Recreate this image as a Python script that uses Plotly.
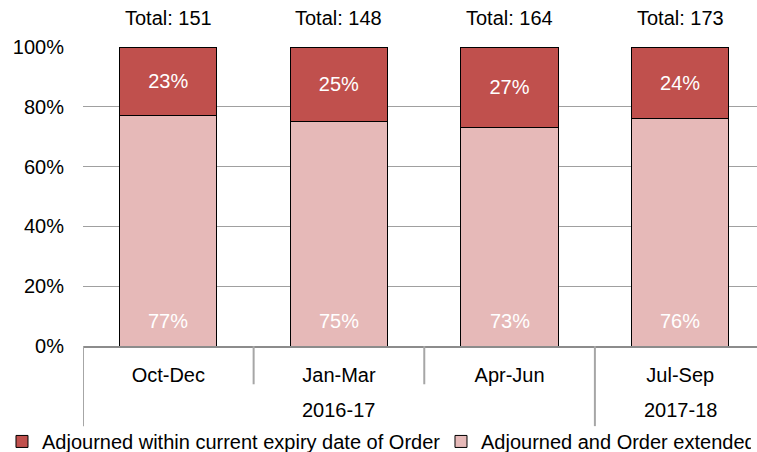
import plotly.graph_objects as go

quarters = ["Oct-Dec", "Jan-Mar", "Apr-Jun", "Jul-Sep"]
years = ["2016-17", "2017-18"]
year_quarter_counts = [3, 1]
totals = [151, 148, 164, 173]
within_pct = [23, 25, 27, 24]
extended_pct = [77, 75, 73, 76]
y_ticks = [0, 20, 40, 60, 80, 100]

FONT = "Liberation Sans, Arial, Helvetica, sans-serif"
RED = "#C0504D"
PINK = "#E6B9B8"

xs = list(range(len(quarters)))

fig = go.Figure()
fig.add_trace(go.Bar(
    x=xs, y=extended_pct, name="Adjourned and Order extended",
    marker=dict(color=PINK, line=dict(color="#000000", width=1)),
    width=0.57, legendwidth=265,
))
fig.add_trace(go.Bar(
    x=xs, y=within_pct, name="Adjourned within current expiry date of Order",
    marker=dict(color=RED, line=dict(color="#000000", width=1)),
    text=[f"{v}%" for v in within_pct], textposition="inside",
    insidetextanchor="middle", textangle=0,
    textfont=dict(color="white", size=20, family=FONT),
    width=0.57, legendwidth=394,
))

annotations = []
for i, t in enumerate(totals):
    annotations.append(dict(
        x=i, y=100, xref="x", yref="y", text=f"Total: {t}",
        showarrow=False, yanchor="bottom", yshift=16,
        font=dict(size=20, color="black", family=FONT)))
for i, v in enumerate(extended_pct):
    annotations.append(dict(
        x=i, y=0, xref="x", yref="y", text=f"{v}%",
        showarrow=False, yanchor="bottom", yshift=12,
        font=dict(size=20, color="white", family=FONT)))

shapes = []
start = 0
boundaries_full = [-0.5]
for yr, n in zip(years, year_quarter_counts):
    center = start + (n - 1) / 2
    annotations.append(dict(
        x=center, y=-0.214, xref="x", yref="paper", text=yr,
        showarrow=False, yanchor="middle",
        font=dict(size=20, color="black", family=FONT)))
    start += n
    boundaries_full.append(start - 0.5)

for b in boundaries_full:
    shapes.append(dict(type="line", xref="x", yref="paper", x0=b, x1=b,
                       y0=0, y1=-0.268, line=dict(color="#A6A6A6", width=2)))
for i in range(1, len(quarters)):
    b = i - 0.5
    if b not in boundaries_full:
        shapes.append(dict(type="line", xref="x", yref="paper", x0=b, x1=b,
                           y0=0, y1=-0.128, line=dict(color="#A6A6A6", width=2)))

fig.update_layout(
    barmode="stack",
    width=757, height=452,
    margin=dict(l=83, r=0, t=47, b=106, autoexpand=False),
    plot_bgcolor="white", paper_bgcolor="white",
    font=dict(family=FONT, size=20, color="black"),
    showlegend=True,
    hovermode=False,
    legend=dict(orientation="h", x=-0.1202, xanchor="left", y=-0.254, yanchor="top",
                traceorder="reversed", font=dict(size=20, family=FONT),
                tracegroupgap=0, bgcolor="rgba(0,0,0,0)"),
    xaxis=dict(
        tickmode="array", tickvals=xs, ticktext=quarters,
        range=[-0.5, 3.45], showgrid=False, zeroline=False,
        showline=True, linecolor="#8C8C8C", linewidth=2,
        ticks="", ticklabelstandoff=10,
        tickfont=dict(size=20, family=FONT, color="black"),
    ),
    yaxis=dict(
        range=[0, 100], tickmode="array", tickvals=y_ticks,
        ticktext=[f"{v}%" for v in y_ticks],
        showgrid=True, gridcolor="#A0A0A0", gridwidth=1,
        zeroline=False, showline=False, ticks="", ticklabelstandoff=18,
        tickfont=dict(size=20, family=FONT, color="black"),
    ),
    annotations=annotations,
    shapes=shapes,
)

fig.write_html(
    "out.html",
    config={"displayModeBar": False, "staticPlot": True},
    post_script="document.body.style.margin='0';document.body.style.overflow='hidden';",
)
